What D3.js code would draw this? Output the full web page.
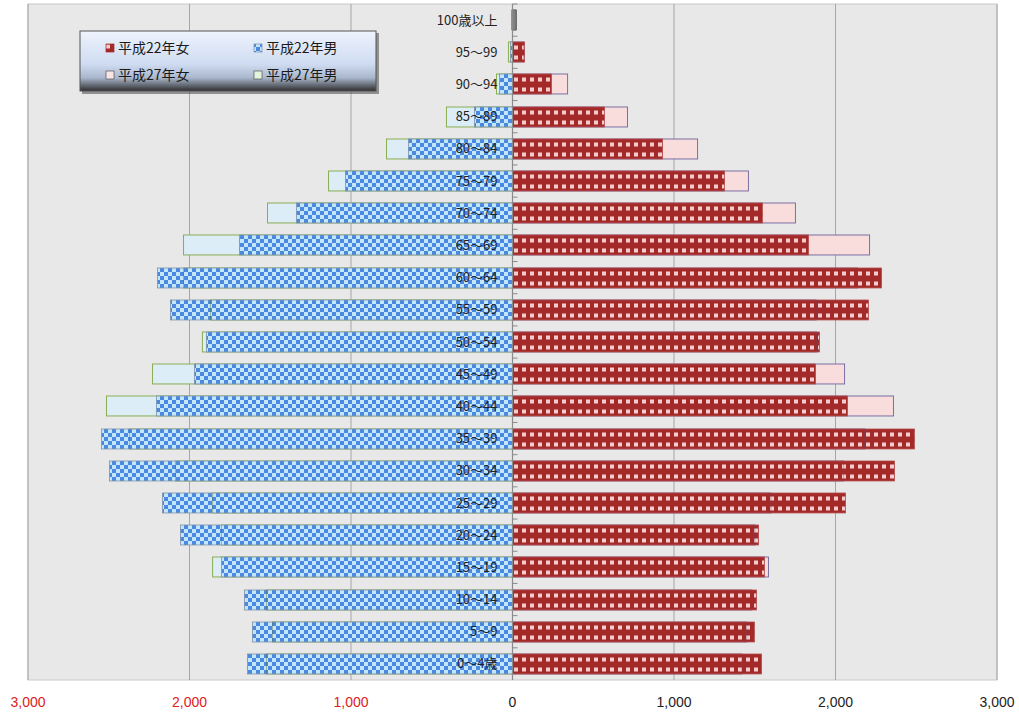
<!DOCTYPE html>
<html>
<head>
<meta charset="utf-8">
<script src="https://cdn.jsdelivr.net/npm/d3@7"></script>
<style>
  body { margin: 0; background: #fff; }
  .ageLabel { font-family: "Noto Sans CJK JP", sans-serif; font-size: 13px; fill: #222; }
  .legendText { font-family: "Noto Sans CJK JP", sans-serif; font-size: 14px; fill: #1a1a1a; }
  .axisText { font-family: "Liberation Sans Narrow", "Liberation Sans", sans-serif; font-size: 14px; }
</style>
</head>
<body>
<div class="chart"></div>
<script>
// age groups, bottom to top
var ages = ["0〜4歳", "5〜9", "10〜14", "15〜19", "20〜24", "25〜29", "30〜34", "35〜39", "40〜44",
  "45〜49", "50〜54", "55〜59", "60〜64", "65〜69", "70〜74", "75〜79", "80〜84", "85〜89",
  "90〜94", "95〜99", "100歳以上"];

var female2010 = [1542, 1498, 1511, 1560, 1523, 2062, 2365, 2489, 2074, 1876, 1901, 2204, 2285, 1833, 1548, 1313, 929, 570, 241, 74, 25];
var female2015 = [1420, 1450, 1480, 1585, 1500, 1600, 2050, 2180, 2359, 2056, 1882, 1880, 2136, 2211, 1752, 1461, 1146, 712, 341, 70, 20];
var male2010 = [1641, 1610, 1659, 1802, 2056, 2167, 2495, 2545, 2204, 1969, 1895, 2118, 2198, 1690, 1337, 1034, 644, 235, 80, 12, 4];
var male2015 = [1523, 1486, 1523, 1857, 1802, 1857, 2087, 2371, 2514, 2229, 1920, 1870, 2037, 2037, 1517, 1139, 780, 409, 99, 25, 3];

var tickValues = [-3000, -2000, -1000, 0, 1000, 2000, 3000];
var legendNames = ["平成22年女", "平成22年男", "平成27年女", "平成27年男"];

var svgWidth = 1019;
var svgHeight = 713;
var plot = { left: 28, right: 997, top: 4, bottom: 680 };

var svg = d3.select(".chart")
  .append("svg")
  .attr("width", svgWidth)
  .attr("height", svgHeight);

var defs = svg.append("defs");

// blue checkerboard for 2010 men
var pm = defs.append("pattern").attr("id", "maleP").attr("patternUnits", "userSpaceOnUse")
  .attr("width", 8).attr("height", 8);
pm.append("rect").attr("width", 8).attr("height", 8).attr("fill", "#c2e6fb");
pm.append("rect").attr("width", 4).attr("height", 4).attr("fill", "#4a89df");
pm.append("rect").attr("x", 4).attr("y", 4).attr("width", 4).attr("height", 4).attr("fill", "#4a89df");

// dark red with pink squares for 2010 women (two rows per bar)
var pf = defs.append("pattern").attr("id", "femaleP").attr("patternUnits", "userSpaceOnUse")
  .attr("width", 8).attr("height", 10);
pf.append("rect").attr("width", 8).attr("height", 10).attr("fill", "#a42a2a");
pf.append("rect").attr("x", 2).attr("y", 3.5).attr("width", 4).attr("height", 4).attr("fill", "#f3cccb");

var lg = defs.append("linearGradient").attr("id", "legendG").attr("x1", 0).attr("y1", 0).attr("x2", 0).attr("y2", 1);
lg.append("stop").attr("offset", "0%").attr("stop-color", "#eef3fc");
lg.append("stop").attr("offset", "55%").attr("stop-color", "#cfdcf2");
lg.append("stop").attr("offset", "78%").attr("stop-color", "#a9b6cc");
lg.append("stop").attr("offset", "100%").attr("stop-color", "#2e2e2e");

// scales
var x = d3.scaleLinear().domain([-3000, 3000]).range([plot.left, plot.right]);
var y = d3.scaleBand().domain(ages.slice().reverse()).range([plot.top, plot.bottom])
  .paddingInner(0.38).paddingOuter(0.19);

// plot background
svg.append("rect")
  .attr("x", plot.left).attr("y", plot.top)
  .attr("width", plot.right - plot.left).attr("height", plot.bottom - plot.top)
  .attr("fill", "#e8e8e8").attr("stroke", "#c8c8c8");

// grid lines
svg.append("g").selectAll("line")
  .data(tickValues.filter(d => d !== 0))
  .enter().append("line")
  .attr("x1", d => x(d)).attr("x2", d => x(d))
  .attr("y1", plot.top).attr("y2", plot.bottom)
  .attr("stroke", "#a6a6a6").attr("stroke-width", 1);

var rows = ages.map(function(a, i) {
  return { age: a, f10: female2010[i], f15: female2015[i], m10: male2010[i], m15: male2015[i] };
});

// one group per row so the patterns line up with each bar
var rowG = svg.append("g").selectAll("g")
  .data(rows).enter().append("g")
  .attr("transform", d => `translate(0, ${Math.round(y(d.age))})`);

var bh = y.bandwidth();

// 平成27 bars behind
rowG.append("rect")
  .attr("x", x(0)).attr("y", 0)
  .attr("width", d => x(d.f15) - x(0)).attr("height", bh)
  .attr("fill", "#f9dcdc").attr("stroke", "#7b6fa3").attr("stroke-width", 1);

rowG.append("rect")
  .attr("x", d => x(-d.m15)).attr("y", 0)
  .attr("width", d => x(0) - x(-d.m15)).attr("height", bh)
  .attr("fill", "#dcedf7").attr("stroke", "#8aae52").attr("stroke-width", 1);

// 平成22 bars on top
rowG.append("rect")
  .attr("x", x(0)).attr("y", 0)
  .attr("width", d => x(d.f10) - x(0)).attr("height", bh)
  .attr("fill", d => d.age === "100歳以上" ? "#808080" : "url(#femaleP)")
  .attr("stroke", d => d.age === "100歳以上" ? "#666" : "#b34a4a").attr("stroke-width", 0.8);

rowG.append("rect")
  .attr("x", d => x(-d.m10)).attr("y", 0)
  .attr("width", d => x(0) - x(-d.m10)).attr("height", bh)
  .attr("fill", "url(#maleP)").attr("stroke", "#7d90a8").attr("stroke-width", 0.8);

// faint 平成27 edges showing through the pattern
rowG.filter(d => d.f15 < d.f10).append("line")
  .attr("x1", d => x(d.f15)).attr("x2", d => x(d.f15))
  .attr("y1", 0).attr("y2", bh)
  .attr("stroke", "#5a4a70").attr("opacity", 0.35);
rowG.filter(d => d.m15 < d.m10).append("line")
  .attr("x1", d => x(-d.m15)).attr("x2", d => x(-d.m15))
  .attr("y1", 0).attr("y2", bh)
  .attr("stroke", "#556b2f").attr("opacity", 0.4);

// zero axis with small ticks
svg.append("line")
  .attr("x1", x(0)).attr("x2", x(0)).attr("y1", plot.top).attr("y2", plot.bottom)
  .attr("stroke", "#8a8a8a").attr("stroke-width", 1.2);
svg.append("g").selectAll("line")
  .data(ages).enter().append("line")
  .attr("x1", x(0)).attr("x2", x(0) + 5)
  .attr("y1", d => y(d) - y.step() * y.paddingInner() / 2)
  .attr("y2", d => y(d) - y.step() * y.paddingInner() / 2)
  .attr("stroke", "#8a8a8a");

// age labels
svg.append("g").selectAll("text")
  .data(ages).enter().append("text")
  .attr("class", "ageLabel")
  .attr("x", x(0) - 15)
  .attr("y", d => y(d) + y.bandwidth() / 2)
  .attr("dy", "0.35em")
  .attr("text-anchor", "end")
  .text(d => d);

// bottom axis labels
svg.append("g").selectAll("text")
  .data(tickValues).enter().append("text")
  .attr("class", "axisText")
  .attr("x", d => x(d))
  .attr("y", 707)
  .attr("text-anchor", "middle")
  .attr("fill", d => d < 0 ? "#e02020" : "#222")
  .text(d => d3.format(",")(Math.abs(d)));

// legend
var legend = svg.append("g").attr("transform", "translate(80, 31)");
legend.append("rect").attr("x", 2).attr("y", 2).attr("width", 297).attr("height", 61).attr("fill", "#555").attr("opacity", 0.6);
legend.append("rect").attr("width", 296).attr("height", 60).attr("fill", "url(#legendG)").attr("stroke", "#555");
var swatchFill = ["url(#femaleP)", "url(#maleP)", "#f9e4e8", "#e4f4dc"];
var swatchStroke = ["#a42a2a", "#7d90a8", "#555", "#555"];
legendNames.forEach(function(name, i) {
  var gx = (i % 2) * 148 + 26;
  var gy = Math.floor(i / 2) * 27 + 16;
  legend.append("rect").attr("x", gx).attr("y", gy - 3).attr("width", 8).attr("height", 8)
    .attr("fill", swatchFill[i]).attr("stroke", swatchStroke[i]).attr("stroke-width", 0.7);
  legend.append("text").attr("class", "legendText").attr("x", gx + 12).attr("y", gy + 1)
    .attr("dy", "0.35em").text(name);
});
</script>
</body>
</html>
